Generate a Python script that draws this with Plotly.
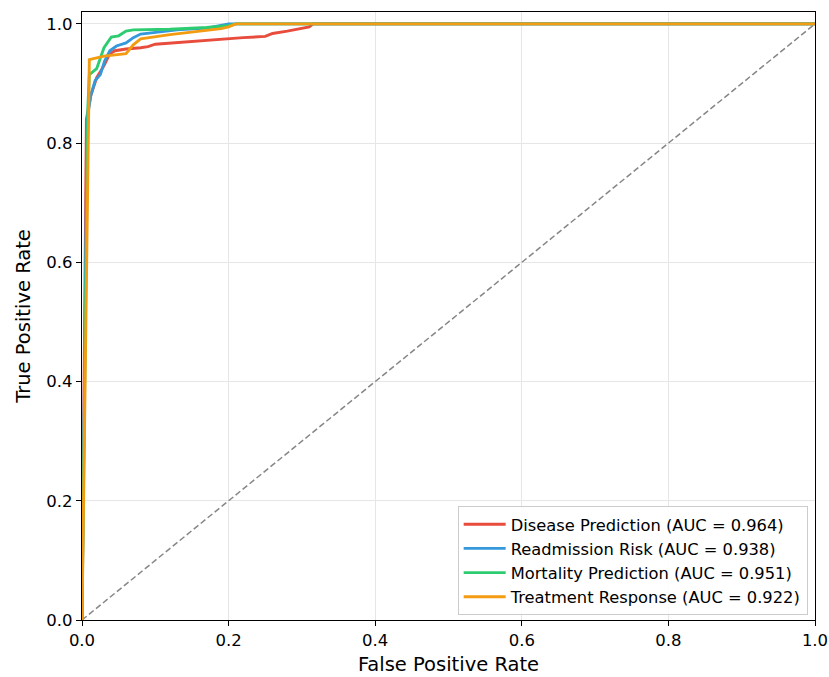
import plotly.graph_objects as go

# ROC curve points (false positive rate, true positive rate) per model
disease_fpr = [0.0, 0.006, 0.012, 0.02, 0.03, 0.038, 0.045, 0.06, 0.08, 0.09, 0.10, 0.12, 0.15, 0.18, 0.22, 0.25, 0.26, 0.28, 0.30, 0.31, 0.315, 1.0]
disease_tpr = [0.0, 0.84, 0.88, 0.91, 0.93, 0.95, 0.955, 0.958, 0.960, 0.962, 0.966, 0.968, 0.971, 0.974, 0.977, 0.979, 0.984, 0.988, 0.992, 0.995, 1.0, 1.0]

readmission_fpr = [0.0, 0.007, 0.012, 0.018, 0.025, 0.031, 0.038, 0.047, 0.06, 0.07, 0.08, 0.10, 0.13, 0.17, 0.19, 0.20, 1.0]
readmission_tpr = [0.0, 0.84, 0.88, 0.905, 0.915, 0.938, 0.955, 0.963, 0.968, 0.977, 0.983, 0.986, 0.990, 0.993, 0.997, 1.0, 1.0]

mortality_fpr = [0.0, 0.008, 0.010, 0.02, 0.03, 0.04, 0.05, 0.06, 0.07, 0.12, 0.17, 0.20, 0.21, 1.0]
mortality_tpr = [0.0, 0.86, 0.915, 0.925, 0.96, 0.978, 0.98, 0.988, 0.990, 0.991, 0.994, 0.997, 1.0, 1.0]

treatment_fpr = [0.0, 0.010, 0.03, 0.06, 0.07, 0.08, 0.12, 0.16, 0.19, 0.20, 0.21, 1.0]
treatment_tpr = [0.0, 0.94, 0.946, 0.950, 0.965, 0.975, 0.982, 0.988, 0.992, 0.995, 1.0, 1.0]

model_names = ["Disease Prediction", "Readmission Risk", "Mortality Prediction", "Treatment Response"]
model_auc = [0.964, 0.938, 0.951, 0.922]
model_colors = ["#e74c3c", "#3498db", "#2ecc71", "#f39c12"]

tick_vals = [0.0, 0.2, 0.4, 0.6, 0.8, 1.0]
tick_text = ["0.0", "0.2", "0.4", "0.6", "0.8", "1.0"]

curves = [
    (disease_fpr, disease_tpr),
    (readmission_fpr, readmission_tpr),
    (mortality_fpr, mortality_tpr),
    (treatment_fpr, treatment_tpr),
]

FONT = "DejaVu Sans"

fig = go.Figure()

# chance line
fig.add_trace(go.Scatter(
    x=[0, 1], y=[0, 1], mode="lines",
    line=dict(color="rgba(128,128,128,0.95)", width=1.5, dash="6px,3px"),
    showlegend=False, hoverinfo="skip",
))

for i, ((fx, ty), name, auc, col) in enumerate(zip(curves, model_names, model_auc, model_colors)):
    fig.add_trace(go.Scatter(
        x=fx, y=ty, mode="lines",
        line=dict(color=col, width=2.9),
        name=f"{name} (AUC = {auc:.3f})",
        legendgroup=f"g{i}",
    ))

axis_common = dict(
    showline=True, linecolor="black", linewidth=1.2, mirror=True,
    ticks="outside", ticklen=5, tickwidth=1.2, tickcolor="black",
    tickvals=tick_vals, ticktext=tick_text,
    showgrid=True, gridcolor="#e6e6e6", gridwidth=1,
    zeroline=False, automargin=False,
    tickfont=dict(family=FONT, size=16.5, color="black"),
)

fig.update_xaxes(
    range=[0, 1],
    title=dict(text="False Positive Rate", font=dict(family=FONT, size=19.5, color="black"), standoff=8),
    **axis_common,
)
fig.update_yaxes(
    range=[0, 1.02],
    title=dict(text="True Positive Rate", font=dict(family=FONT, size=19.5, color="black"), standoff=10),
    **axis_common,
)

fig.update_layout(
    width=829, height=677,
    margin=dict(l=82, r=14, t=12, b=57),
    paper_bgcolor="white", plot_bgcolor="white",
    font=dict(family=FONT, color="black"),
    legend=dict(
        x=0.99, y=0.008, xanchor="right", yanchor="bottom",
        bgcolor="rgba(255,255,255,0.85)", bordercolor="#cccccc", borderwidth=1,
        font=dict(family=FONT, size=16.3, color="black"),
        tracegroupgap=0, traceorder="grouped", itemwidth=42,
    ),
    showlegend=True,
)

fig.write_html("out.html")
